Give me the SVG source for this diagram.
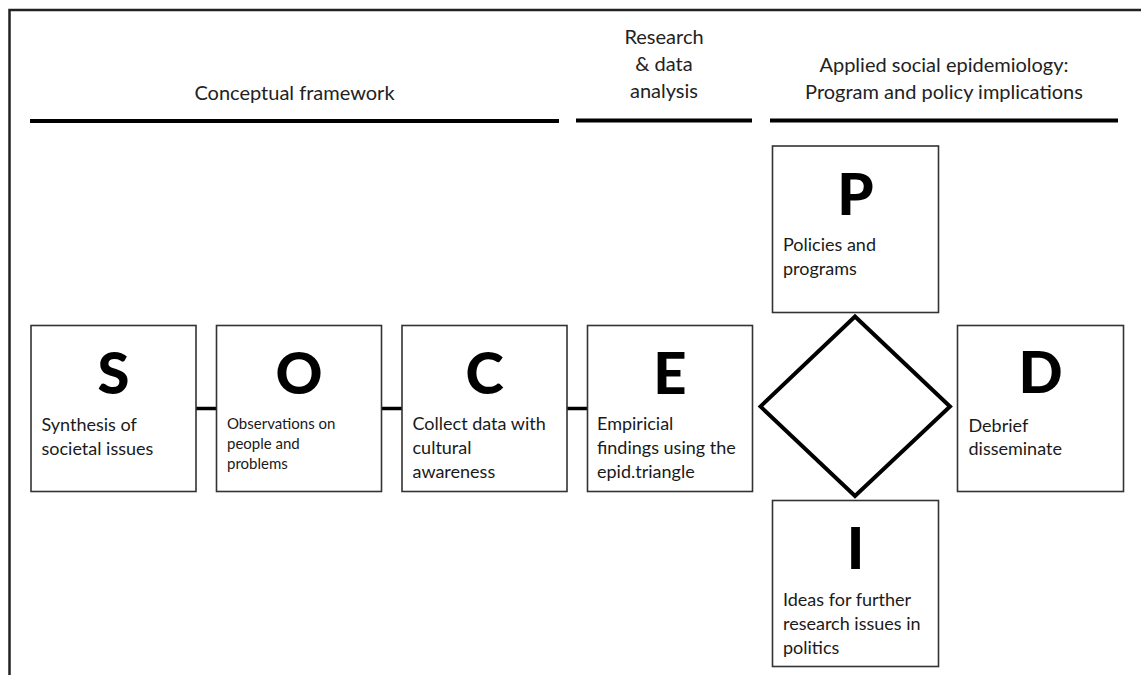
<svg xmlns="http://www.w3.org/2000/svg" width="1141" height="675" viewBox="0 0 1141 675">
  <style>
    .frame { fill: none; stroke: #222; stroke-width: 2.5; }
    .rule { stroke: #000; stroke-width: 4; }
    .head { font-family: Lato, "Open Sans", sans-serif; font-size: 20px; fill: #222; text-anchor: middle; }
    .box { fill: #fff; stroke: #333; stroke-width: 1.6; }
    .letter { font-family: Lato, "Open Sans", sans-serif; font-weight: 900; font-size: 58px; fill: #000; text-anchor: middle; }
    .body { font-family: Lato, "Open Sans", sans-serif; font-size: 18px; fill: #1a1a1a; }
    .small { font-family: Lato, "Open Sans", sans-serif; font-size: 15px; fill: #1a1a1a; }
    .link { stroke: #000; stroke-width: 3.5; fill: none; }
    .diamond { fill: #fff; stroke: #000; stroke-width: 4; stroke-linejoin: miter; }
  </style>

  <rect width="1141" height="675" fill="#fff"/>
  <path class="frame" d="M9.5,675 V10 H1141"/>

  <!-- section headings -->
  <g id="headings">
    <text class="head" x="294.5" y="100">Conceptual framework</text>
    <line class="rule" x1="30" y1="121" x2="559" y2="121"/>
    <text class="head" x="664" y="44">Research</text>
    <text class="head" x="664" y="71">&amp; data</text>
    <text class="head" x="664" y="98">analysis</text>
    <line class="rule" x1="576" y1="120.5" x2="752" y2="120.5"/>
    <text class="head" x="944" y="72">Applied social epidemiology:</text>
    <text class="head" x="944" y="99">Program and policy implications</text>
    <line class="rule" x1="770" y1="120.5" x2="1118" y2="120.5"/>
  </g>

  <!-- connectors -->
  <g id="connectors">
    <line class="link" x1="196" y1="408.5" x2="216.5" y2="408.5"/>
    <line class="link" x1="381.5" y1="408.5" x2="402" y2="408.5"/>
    <line class="link" x1="567" y1="408.5" x2="587.5" y2="408.5"/>
    <polygon class="diamond" points="855,316.5 950,406.5 855,496 760.5,406.5"/>
  </g>

  <g id="node-s">
    <rect class="box" x="31" y="325.5" width="165" height="166"/>
    <text class="letter" x="113.5" y="394">S</text>
    <text class="body" x="41.5" y="430.5">Synthesis of</text>
    <text class="body" x="41.5" y="454.5">societal issues</text>
  </g>

  <g id="node-o">
    <rect class="box" x="216.5" y="325.5" width="165" height="166"/>
    <text class="letter" x="299" y="394">O</text>
    <text class="small" x="227" y="429">Observations on</text>
    <text class="small" x="227" y="449">people and</text>
    <text class="small" x="227" y="469">problems</text>
  </g>

  <g id="node-c">
    <rect class="box" x="402" y="325.5" width="165" height="166"/>
    <text class="letter" x="484.5" y="394">C</text>
    <text class="body" x="412.5" y="430">Collect data with</text>
    <text class="body" x="412.5" y="454">cultural</text>
    <text class="body" x="412.5" y="478">awareness</text>
  </g>

  <g id="node-e">
    <rect class="box" x="587.5" y="325.5" width="165" height="166"/>
    <text class="letter" x="670" y="394">E</text>
    <text class="body" x="597" y="430">Empiricial</text>
    <text class="body" x="597" y="454">findings using the</text>
    <text class="body" x="597" y="478">epid.triangle</text>
  </g>

  <g id="node-p">
    <rect class="box" x="772.5" y="146" width="166" height="166.5"/>
    <text class="letter" x="855.5" y="214.5">P</text>
    <text class="body" x="783" y="250.5">Policies and</text>
    <text class="body" x="783" y="275">programs</text>
  </g>

  <g id="node-d">
    <rect class="box" x="957.5" y="325.5" width="166" height="166"/>
    <text class="letter" x="1040.5" y="393">D</text>
    <text class="body" x="968.5" y="431.5">Debrief</text>
    <text class="body" x="968.5" y="455">disseminate</text>
  </g>

  <g id="node-i">
    <rect class="box" x="772.5" y="500.5" width="166" height="166"/>
    <text class="letter" x="855.5" y="568.5">I</text>
    <text class="body" x="783" y="605.5">Ideas for further</text>
    <text class="body" x="783" y="630">research issues in</text>
    <text class="body" x="783" y="653.5">politics</text>
  </g>
</svg>
